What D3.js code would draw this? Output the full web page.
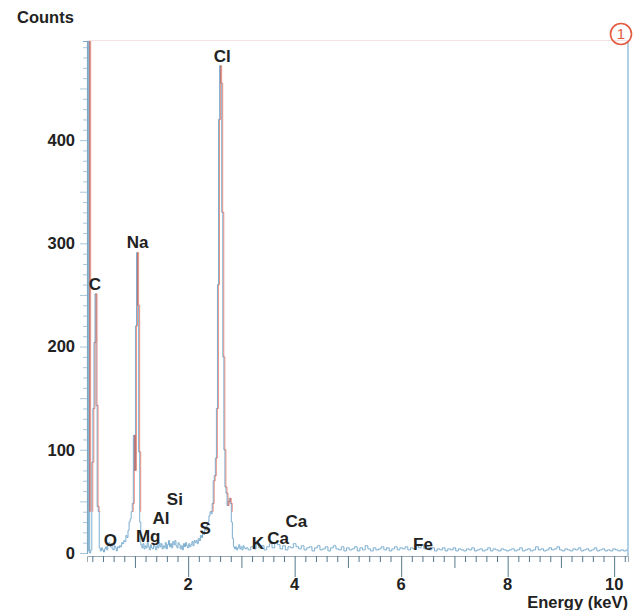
<!DOCTYPE html>
<html>
<head>
<meta charset="utf-8">
<script src="https://cdn.jsdelivr.net/npm/d3@7"></script>
<style>
  body { margin: 0; background: #fff; }
  svg { position: absolute; left: 0; top: 0; }
  text { font-family: "Liberation Sans", Arial, sans-serif; font-weight: bold; fill: #222; }
</style>
</head>
<body>
<script>
// low energy channels: 0.10 keV .. 3.08 keV, 0.02 keV wide
var lowStart = 0.10, lowStep = 0.02;
var lowCounts = [
  0, 2, 600, 0, 3, 88, 140, 204, 251, 143,        // 0.10 - 0.28
  45, 40, 5, 2, 5, 3, 1, 4, 6, 3,                 // 0.30 - 0.48
  8, 10, 6, 9, 4, 3, 7, 5, 2, 6,                  // 0.50 - 0.68
  5, 7, 6, 10, 9, 12, 11, 17, 15, 22,             // 0.70 - 0.88
  30, 33, 40, 48, 114, 80, 220, 291, 240, 98,     // 0.90 - 1.08
  30, 8, 5, 9, 4, 7, 5, 10, 6, 3,                 // 1.10 - 1.28
  8, 5, 4, 9, 6, 3, 7, 5, 10, 6,                  // 1.30 - 1.48
  9, 4, 7, 5, 10, 4, 8, 12, 6, 9,                 // 1.50 - 1.68
  5, 11, 8, 12, 7, 5, 10, 8, 4, 7,                // 1.70 - 1.88
  3, 9, 6, 10, 7, 5, 9, 6, 8, 11,                 // 1.90 - 2.08
  7, 12, 10, 12, 9, 14, 12, 17, 15, 20,           // 2.10 - 2.28
  18, 24, 22, 27, 30, 36, 40, 38, 48, 70,         // 2.30 - 2.48
  75, 92, 140, 260, 420, 472, 455, 330, 190, 100, // 2.50 - 2.68
  64, 58, 46, 50, 53, 48, 30, 14, 6, 4,           // 2.70 - 2.88
  6, 3, 5, 8, 4, 6, 3, 7, 5, 4                    // 2.90 - 3.08
];

// high energy channels: 3.10 keV .. 10.25 keV, 0.05 keV wide
var highStart = 3.10, highStep = 0.05;
var highCounts = [
  5, 3, 6, 4, 8, 5, 7, 3, 6, 9,    // 3.10 - 3.55
  5, 10, 8, 4, 7, 3, 6, 5, 9, 6,   // 3.60 - 4.05
  4, 7, 3, 5, 6, 2, 5, 7, 3, 4,    // 4.10 - 4.55
  6, 2, 5, 7, 4, 3, 6, 2, 5, 3,    // 4.60 - 5.05
  4, 6, 2, 5, 3, 7, 4, 2, 5, 3,    // 5.10 - 5.55
  4, 6, 3, 5, 2, 4, 6, 3, 5, 4,    // 5.60 - 6.05
  6, 3, 5, 4, 7, 5, 8, 4, 6, 3,    // 6.10 - 6.55
  5, 2, 4, 3, 5, 2, 4, 3, 5, 2,    // 6.60 - 7.05
  4, 3, 2, 4, 3, 5, 2, 3, 4, 2,    // 7.10 - 7.55
  3, 5, 2, 4, 3, 2, 4, 3, 2, 3,    // 7.60 - 8.05
  4, 2, 3, 5, 2, 3, 4, 2, 3, 6,    // 8.10 - 8.55
  3, 4, 2, 3, 5, 3, 4, 6, 3, 2,    // 8.60 - 9.05
  4, 3, 2, 4, 3, 5, 2, 3, 4, 2,    // 9.10 - 9.55
  3, 5, 2, 3, 4, 2, 3, 2, 4, 3,    // 9.60 - 10.05
  2, 3, 2, 3                       // 10.10 - 10.25
];

// peak labels
var elements      = ["C", "Na", "Cl", "O", "Mg", "Al", "Si", "S", "K", "Ca", "Ca", "Fe"];
var elementEnergy = [0.25, 1.05, 2.64, 0.54, 1.25, 1.49, 1.75, 2.32, 3.31, 3.69, 4.03, 6.41];
var elementLabelY = [261, 301, 482, 12.5, 16.5, 34, 52, 24, 10, 14.5, 31, 8.7];

var yTickValues = [0, 100, 200, 300, 400];
var xTickValues = [2, 4, 6, 8, 10];

var width = 640, height = 610;

var x = d3.scaleLinear().domain([0.1, 10.26]).range([87, 628]);
var y = d3.scaleLinear().domain([0, 496]).range([553, 41]);

var svg = d3.select("body").append("svg")
    .attr("width", width)
    .attr("height", height);

// build spectrum points from channels
var spectrum = [];
lowCounts.forEach(function(c, i){ spectrum.push([lowStart + i*lowStep, c]); });
highCounts.forEach(function(c, i){ spectrum.push([highStart + i*highStep, c]); });

svg.append("clipPath").attr("id", "plotClip")
  .append("rect").attr("x", 86).attr("y", y.range()[1]).attr("width", 545).attr("height", 520);
svg.append("clipPath").attr("id", "redClip")
  .append("rect").attr("x", 86).attr("y", y.range()[1]).attr("width", 545).attr("height", y(40) - y.range()[1]);

//frame: faint top line and blue right line
svg.append("line")
    .attr("x1", x(0.1)).attr("x2", x(10.26))
    .attr("y1", 40.5).attr("y2", 40.5)
    .attr("stroke", "#f5e2e2").attr("stroke-width", 1);
svg.append("line")
    .attr("x1", x(10.26)).attr("x2", x(10.26))
    .attr("y1", 41).attr("y2", 556)
    .attr("stroke", "#7db3d6").attr("stroke-width", 1.2);

//spectrum: blue trace with a red trace slightly shifted over the tall peaks
var line = d3.line()
    .x(function(d){ return x(d[0]); })
    .y(function(d){ return y(d[1]); })
    .curve(d3.curveStep);

svg.append("path")
    .datum(spectrum)
    .attr("clip-path", "url(#plotClip)")
    .attr("d", line)
    .attr("fill", "none")
    .attr("stroke", "#6ea6cc")
    .attr("stroke-width", 0.9);
svg.append("g")
    .attr("clip-path", "url(#redClip)")
  .append("path")
    .datum(spectrum)
    .attr("transform", "translate(1,0)")
    .attr("d", line)
    .attr("fill", "none")
    .attr("stroke", "#dd4a32")
    .attr("stroke-opacity", 0.75)
    .attr("stroke-width", 0.8);

//tick labels and titles
svg.selectAll(".yLabel")
    .data(yTickValues)
  .enter().append("text")
    .attr("class", "yLabel")
    .attr("x", 75)
    .attr("y", function(d){ return y(d); })
    .attr("dy", "0.36em")
    .attr("text-anchor", "end")
    .style("font-size", "16.5px")
    .text(function(d){ return d; });

svg.selectAll(".xLabel")
    .data(xTickValues)
  .enter().append("text")
    .attr("class", "xLabel")
    .attr("x", function(d){ return x(d); })
    .attr("y", 590)
    .attr("text-anchor", "middle")
    .style("font-size", "16.5px")
    .text(function(d){ return d; });

svg.append("text")
    .attr("x", 17).attr("y", 23)
    .style("font-size", "16.5px")
    .text("Counts");
svg.append("text")
    .attr("x", 628).attr("y", 608)
    .attr("text-anchor", "end")
    .style("font-size", "16.5px")
    .text("Energy (keV)");

//element labels
svg.selectAll(".element")
    .data(elements)
  .enter().append("text")
    .attr("class", "element")
    .attr("x", function(d, i){ return x(elementEnergy[i]); })
    .attr("y", function(d, i){ return y(elementLabelY[i]); })
    .attr("dy", "0.36em")
    .attr("text-anchor", "middle")
    .style("font-size", "17px")
    .text(function(d){ return d; });

//circled number in top-right corner
svg.append("circle")
    .attr("cx", 621).attr("cy", 34).attr("r", 10.5)
    .attr("fill", "none")
    .attr("stroke", "#e35a3e")
    .attr("stroke-width", 1.6);
svg.append("text")
    .attr("x", 621).attr("y", 34)
    .attr("dy", "0.36em")
    .attr("text-anchor", "middle")
    .style("font-size", "15px")
    .style("font-weight", "normal")
    .style("fill", "#e35a3e")
    .text("1");

//y axis with minor ticks
var yAxis = d3.axisLeft(y).tickValues(d3.range(0, 500, 10)).tickSize(4).tickFormat("");
svg.append("g")
    .attr("class", "yAxis")
    .attr("transform", "translate(" + x(0.1) + ",0)")
    .call(yAxis)
    .call(function(g){
        g.select(".domain").attr("stroke", "#7fa9c4").attr("stroke-width", 1.2);
        g.selectAll(".tick line").attr("stroke", "#a9c7da")
            .attr("x2", function(d){ return d % 50 === 0 ? -7 : -4; });
    });

//energy axis on its own overlay layer
var axisLayer = d3.select("body").append("svg")
    .attr("width", width)
    .attr("height", height)
    .style("pointer-events", "none");

var xMinorTicks = d3.range(1, 52).map(function(k){ return k/5; });
var xAxis = d3.axisBottom(x).tickValues(xMinorTicks).tickSize(6).tickFormat("");
axisLayer.append("g")
    .attr("class", "energyAxis")
    .attr("transform", "translate(0,556)")
    .call(xAxis)
    .call(function(g){
        g.select(".domain").attr("stroke", "#9aa9b3").attr("stroke-width", 1);
        g.selectAll(".tick line")
            .attr("stroke", "#56788e")
            .attr("y2", function(d){
                var r = Math.round(d*5);
                if (r % 10 === 0) return 21;
                if (r % 5 === 0) return 12;
                return 6;
            });
    });
</script>
</body>
</html>
